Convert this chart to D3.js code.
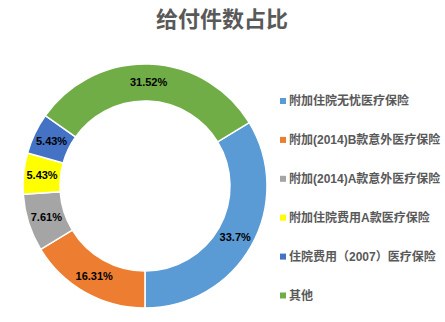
<!DOCTYPE html>
<html>
<head>
<meta charset="utf-8">
<script src="https://cdn.jsdelivr.net/npm/d3@7"></script>
<style>
  body { margin: 0; background: #fff; }
  svg { display: block; }
</style>
</head>
<body>
<div id="chart"></div>
<script>
var svgWidth = 445;
var svgHeight = 322;

// chart data
var categories = [
  "附加住院无忧医疗保险",
  "附加(2014)B款意外医疗保险",
  "附加(2014)A款意外医疗保险",
  "附加住院费用A款医疗保险",
  "住院费用（2007）医疗保险",
  "其他"
];
var shares = [33.7, 16.31, 7.61, 5.43, 5.43, 31.52];
var shareLabels = ["33.7%", "16.31%", "7.61%", "5.43%", "5.43%", "31.52%"];
var colors = ["#5b9bd5", "#ed7d31", "#a5a5a5", "#ffff00", "#4472c4", "#70ad47"];

var cx = 145, cy = 186;
var outerR = 122, innerR = 85;
var startDeg = 58.7;

var svg = d3.select("#chart")
  .append("svg")
  .attr("width", svgWidth)
  .attr("height", svgHeight);

// title
svg.append("text")
  .attr("x", 222)
  .attr("y", 27)
  .attr("text-anchor", "middle")
  .style("font-family", "'Noto Sans CJK SC', sans-serif")
  .style("font-size", "22px")
  .style("font-weight", "bold")
  .style("fill", "#595959")
  .text("给付件数占比");

var pie = d3.pie()
  .sort(null)
  .value(d => d)
  .startAngle(startDeg * Math.PI / 180)
  .endAngle(startDeg * Math.PI / 180 + 2 * Math.PI);

var arc = d3.arc()
  .innerRadius(innerR)
  .outerRadius(outerR);

var donut = svg.append("g")
  .attr("transform", `translate(${cx}, ${cy})`);

var slices = pie(shares);

donut.selectAll("path")
  .data(slices)
  .enter()
  .append("path")
  .attr("d", arc)
  .attr("fill", (d, i) => colors[i])
  .attr("stroke", "#fff")
  .attr("stroke-width", 1.5);

donut.selectAll("text")
  .data(slices)
  .enter()
  .append("text")
  .attr("transform", d => `translate(${arc.centroid(d)})`)
  .attr("text-anchor", "middle")
  .attr("dy", "0.35em")
  .style("font-family", "'Liberation Sans', Arial, sans-serif")
  .style("font-size", "11px")
  .style("font-weight", "bold")
  .style("fill", "#000")
  .text((d, i) => shareLabels[i]);

// legend
var legendY = d3.scalePoint()
  .domain(categories)
  .range([101, 295.5]);

var legend = svg.append("g");

var items = legend.selectAll("g")
  .data(categories)
  .enter()
  .append("g")
  .attr("transform", d => `translate(280, ${legendY(d)})`);

items.append("rect")
  .attr("x", 0)
  .attr("y", -3)
  .attr("width", 6)
  .attr("height", 6)
  .attr("fill", (d, i) => colors[i]);

items.append("text")
  .attr("x", 9)
  .attr("dy", "0.36em")
  .style("font-family", "'Liberation Sans', 'Noto Sans CJK SC', sans-serif")
  .style("font-size", "12px")
  .style("font-weight", "bold")
  .style("fill", "#595959")
  .text(d => d);
</script>
</body>
</html>
